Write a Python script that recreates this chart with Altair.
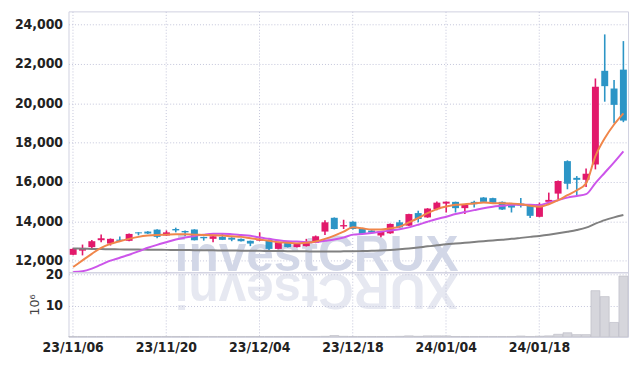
import altair as alt
import pandas as pd

dates = [
    "23/11/06", "23/11/07", "23/11/08", "23/11/09", "23/11/10", "23/11/13", "23/11/14", "23/11/15",
    "23/11/16", "23/11/17", "23/11/20", "23/11/21", "23/11/22", "23/11/23", "23/11/24", "23/11/27",
    "23/11/28", "23/11/29", "23/11/30", "23/12/01", "23/12/04", "23/12/05", "23/12/06", "23/12/07",
    "23/12/08", "23/12/11", "23/12/12", "23/12/13", "23/12/14", "23/12/15", "23/12/18", "23/12/19",
    "23/12/20", "23/12/21", "23/12/22", "23/12/26", "23/12/27", "23/12/28", "24/01/02", "24/01/03",
    "24/01/04", "24/01/05", "24/01/08", "24/01/09", "24/01/10", "24/01/11", "24/01/12", "24/01/15",
    "24/01/16", "24/01/17", "24/01/18", "24/01/19", "24/01/22", "24/01/23", "24/01/24", "24/01/25",
    "24/01/26", "24/01/29", "24/01/30", "24/01/31",
]
opens = [12300, 12510, 12690, 13040, 12870, 13070, 13010, 13440, 13480, 13580,
         13280, 13610, 13510, 13580, 13210, 13110, 13210, 13170, 13110, 13010,
         13020, 13060, 12600, 12910, 12690, 12740, 12910, 13480, 14180, 13740,
         13980, 13610, 13530, 13280, 13390, 13950, 13780, 14420, 14200, 14620,
         14900, 14990, 14670, 14990, 15210, 15180, 14990, 14840, 14900, 14790,
         14230, 14990, 15410, 17060, 16210, 16110, 16890, 21650, 20750, 21710]
highs = [12650, 12820, 13050, 13330, 13130, 13225, 13380, 13450, 13500, 13600,
         13540, 13680, 13530, 13600, 13220, 13260, 13360, 13190, 13130, 13020,
         13440, 13080, 12960, 12930, 12890, 13110, 13280, 14050, 14200, 14080,
         14000, 13630, 13550, 13510, 13890, 14070, 14390, 14540, 14670, 15010,
         15010, 15000, 14860, 15050, 15230, 15200, 15010, 14860, 15180, 14810,
         14950, 15460, 16070, 17100, 16300, 16690, 21260, 23500, 21180, 23160]
lows = [12280, 12270, 12650, 12940, 12770, 12990, 12990, 13290, 13360, 13140,
        13260, 13440, 13240, 13030, 13020, 12940, 13050, 12990, 12970, 12740,
        13000, 12470, 12580, 12670, 12670, 12720, 12890, 13300, 13590, 13610,
        13590, 13340, 13410, 13190, 13370, 13670, 13760, 13950, 14180, 14560,
        14450, 14450, 14370, 14700, 14970, 14920, 14580, 14450, 14700, 14170,
        14210, 14870, 15130, 15630, 15290, 15750, 16640, 20080, 18990, 19040]
closes = [12600, 12650, 12990, 13140, 13110, 13010, 13360, 13390, 13380, 13210,
          13440, 13540, 13440, 13040, 13140, 13240, 13060, 13070, 12990, 12870,
          13070, 12600, 12940, 12690, 12870, 12940, 13240, 13950, 13610, 13810,
          13610, 13360, 13430, 13490, 13870, 13690, 14370, 14120, 14650, 14950,
          15000, 14670, 14840, 14870, 14990, 14940, 14600, 14700, 14800, 14280,
          14870, 15090, 16050, 15910, 16110, 16420, 20840, 20870, 19920, 19120]
ma5 = [11680, 12015, 12350, 12655, 12855, 12990, 13110, 13210, 13275, 13310,
       13325, 13340, 13340, 13325, 13310, 13295, 13275, 13240, 13210, 13140,
       13075, 13010, 12940, 12910, 12880, 12910, 12975, 13110, 13275, 13475,
       13695, 13645, 13580, 13580, 13645, 13730, 13945, 14170, 14420, 14620,
       14750, 14840, 14870, 14905, 14955, 14925, 14925, 14905, 14870, 14790,
       14740, 14870, 15075, 15330, 15580, 15930, 17310, 18220, 18920, 19490]
ma20 = [11425, 11460, 11595, 11800, 12000, 12150, 12300, 12470, 12655, 12805,
        12940, 13075, 13175, 13260, 13325, 13370, 13375, 13350, 13310, 13270,
        13175, 13110, 13040, 12990, 12975, 12940, 12950, 13010, 13075, 13175,
        13325, 13360, 13410, 13475, 13530, 13595, 13695, 13830, 13980, 14120,
        14235, 14370, 14470, 14570, 14670, 14740, 14790, 14840, 14840, 14840,
        14820, 14955, 15075, 15205, 15290, 15380, 15940, 16470, 17000, 17560]
ma60 = [12620, 12610, 12600, 12590, 12580, 12575, 12570, 12565, 12560, 12555,
        12550, 12545, 12540, 12535, 12530, 12525, 12520, 12515, 12510, 12505,
        12500, 12495, 12490, 12485, 12480, 12475, 12470, 12470, 12470, 12475,
        12480, 12490, 12505, 12520, 12545, 12580, 12620, 12670, 12730, 12780,
        12830, 12870, 12910, 12950, 12990, 13030, 13070, 13110, 13160, 13210,
        13260, 13320, 13390, 13470, 13560, 13680, 13880, 14060, 14200, 14320]
volume_m = [0.1, 0.1, 0.1, 0.1, 0.1, 0.1, 0.1, 0.1, 0.1, 0.1,
            0.1, 0.1, 0.1, 0.1, 0.1, 0.1, 0.1, 0.1, 0.1, 0.1,
            0.1, 0.1, 0.1, 0.1, 0.1, 0.1, 0.1, 0.15, 0.4, 0.15,
            0.1, 0.1, 0.1, 0.1, 0.1, 0.15, 0.3, 0.15, 0.3, 0.3,
            0.3, 0.1, 0.1, 0.1, 0.1, 0.1, 0.1, 0.1, 0.25, 0.1,
            0.2, 0.3, 0.8, 1.3, 0.7, 0.7, 14.8, 12.9, 4.6, 19.5]

tick_dates = ["23/11/06", "23/11/20", "23/12/04", "23/12/18", "24/01/04", "24/01/18"]
price_ticks = [12000, 14000, 16000, 18000, 20000, 22000, 24000]
vol_ticks = [10, 20]
watermark = ["investCRUX"]
watermark_reflect = ["XURCtsevni"]

df = pd.DataFrame({
    "date": dates, "open": opens, "high": highs, "low": lows, "close": closes,
    "ma5": ma5, "ma20": ma20, "ma60": ma60, "vol": volume_m,
})
df["dir"] = ["up" if c >= o else "down" for o, c in zip(opens, closes)]

FONT = "Liberation Sans Narrow, DejaVu Sans Condensed, sans-serif"
GRID = "#c2c4da"
UP = "#e2196b"
DOWN = "#2c95c6"

W = 564
H_PRICE = 263
H_VOL = 65

xscale = alt.Scale(paddingInner=0, paddingOuter=0)

x_price = alt.X("date:O", sort=None, scale=xscale,
                axis=alt.Axis(values=tick_dates, labels=False, ticks=False, domain=False,
                              grid=True, title=None, bandPosition=0.5,
                              minExtent=0, maxExtent=0))
y_scale = alt.Scale(domain=[11410, 24670], nice=False, zero=False)
y_axis = alt.Axis(values=price_ticks, format=",d", title=None, grid=True,
                  minExtent=55, maxExtent=55, labelPadding=6)

base = alt.Chart(df)
color = alt.Color("dir:N", scale=alt.Scale(domain=["up", "down"], range=[UP, DOWN]), legend=None)

wm = alt.Chart(pd.DataFrame({"t": watermark})).mark_text(
    font="Liberation Sans", fontWeight="bold", fontSize=50, color="#d2d7e7",
    align="center", baseline="alphabetic"
).encode(text="t:N", x=alt.value(250), y=alt.value(262))

wm2 = alt.Chart(pd.DataFrame({"t": watermark_reflect})).mark_text(
    font="Liberation Sans", fontWeight="bold", fontSize=50, color="#e6e8f1",
    align="center", baseline="alphabetic", angle=180
).encode(text="t:N", x=alt.value(250), y=alt.value(265))

wicks = base.mark_rule(strokeWidth=1.6).encode(
    x=x_price, y=alt.Y("low:Q", scale=y_scale, axis=y_axis), y2="high:Q", color=color)
bodies = base.mark_bar(size=7).encode(
    x=x_price, y=alt.Y("open:Q", scale=y_scale), y2="close:Q", color=color)

l60 = base.mark_line(color="#808080", strokeWidth=2, interpolate="monotone", clip=True).encode(
    x=x_price, y=alt.Y("ma60:Q", scale=y_scale))
l20 = base.mark_line(color="#cc55ea", strokeWidth=2, interpolate="monotone", clip=True).encode(
    x=x_price, y=alt.Y("ma20:Q", scale=y_scale))
l5 = base.mark_line(color="#f0864a", strokeWidth=2, interpolate="monotone", clip=True).encode(
    x=x_price, y=alt.Y("ma5:Q", scale=y_scale))

price = alt.layer(wm, wm2, wicks, bodies, l60, l20, l5).properties(width=W, height=H_PRICE)

x_vol = alt.X("date:O", sort=None, scale=xscale,
              axis=alt.Axis(values=tick_dates, labels=True, ticks=False, domain=False,
                            grid=True, title=None, bandPosition=0.5, labelAngle=0,
                            labelPadding=4))
vol = base.mark_bar(size=9, fill="#d6d6dc", stroke="#b8b8c2", strokeWidth=0.6).encode(
    x=x_vol,
    y=alt.Y("vol:Q", scale=alt.Scale(domain=[0, 20.7], nice=False),
            axis=alt.Axis(values=vol_ticks, title="10⁶", grid=True, labelPadding=6,
                          titlePadding=4, titleFont="DejaVu Sans", titleFontWeight="normal",
                          titleFontSize=13, titleColor="#444444")),
).properties(width=W, height=H_VOL)

chart = alt.vconcat(price, vol, spacing=0, bounds="flush").properties(
    padding={"left": 5, "top": 1, "right": 5, "bottom": 5}
).configure_view(stroke="#cfd0e0", strokeWidth=1).configure_axis(
    labelFont=FONT, labelFontWeight="bold", labelFontSize=14, labelColor="#222222",
    ticks=False, domain=False, gridColor=GRID, gridDash=[1, 2], gridWidth=1
)

chart.save("out.html", embed_options={"renderer": "svg", "actions": False})
